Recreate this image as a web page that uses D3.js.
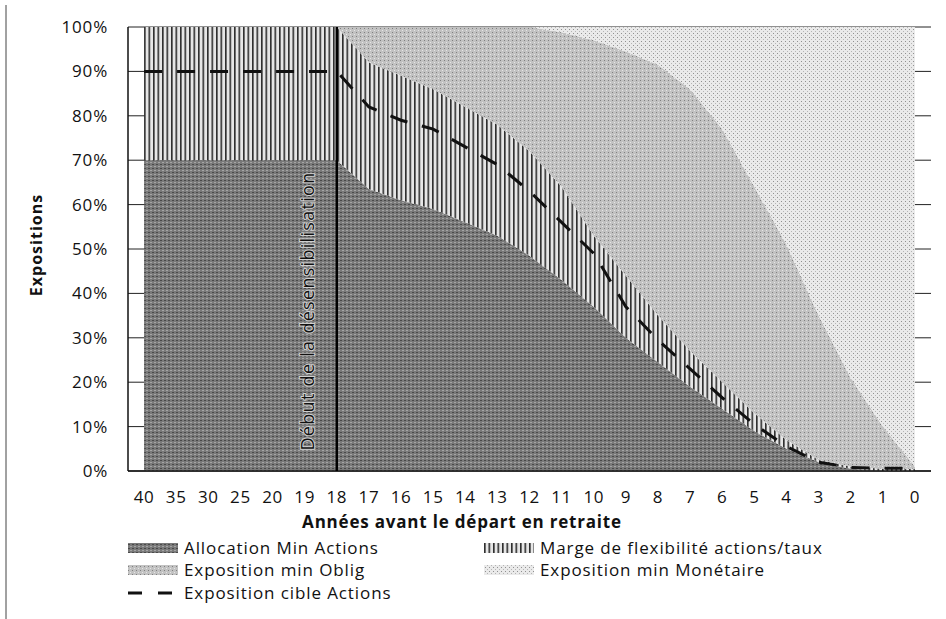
<!DOCTYPE html>
<html><head><meta charset="utf-8">
<script src="https://cdn.jsdelivr.net/npm/d3@7"></script>
<style>
body{margin:0;background:#fff;}
svg text{font-family:"Open Sans",sans-serif;fill:#111;}
</style></head>
<body><svg id="c" width="946" height="619"></svg>
<script>
// ---- data ----
const categories = ["40","35","30","25","20","19","18","17","16","15","14","13","12","11","10","9","8","7","6","5","4","3","2","1","0"];
const allocationMinActions = [70,70,70,70,70,70,70,63.5,61,59,56,53,48.5,43,37,30,24.5,19,14,9,5,2,0.5,0,0];
const margeFlexibilite =     [30,30,30,30,30,30,30,28.5,28,27,26,25,23.5,21,16,14,10.5,8,6,4,2,0.5,0.5,0.5,0.5];
const expositionMinOblig =   [0,0,0,0,0,0,0,8,11,14,18,22,28,34.8,44,50.5,56.5,59,57,51,44,32.5,20,9.5,0.5];
const expositionMinMonetaire=[0,0,0,0,0,0,0,0,0,0,0,0,0,1.2,3,5.5,8.5,14,23,36,49,65,79,90,99];
const expositionCibleActions=[90,90,90,90,90,90,90,82,79,77,73,69,63,56,49,37,29.5,23,16.5,10.5,5.5,2,0.8,0.6,0.6];
const yTicks = [0,10,20,30,40,50,60,70,80,90,100];
const seriesNames = ["Allocation Min Actions","Marge de flexibilité actions/taux","Exposition min Oblig","Exposition min Monétaire","Exposition cible Actions"];
const markerCategory = "18";
const markerLabel = "Début de la désensibilisation";

// ---- layout ----
const svg = d3.select("#c");
const L=128, R=931, T=27, B=471;
const x = d3.scalePoint().domain(categories).range([L,R]).padding(0.5);
const y = d3.scaleLinear().domain([0,100]).range([B,T]);

// patterns
const defs = svg.append("defs");
const pStripe = defs.append("pattern").attr("id","stripe").attr("patternUnits","userSpaceOnUse").attr("width",4.5).attr("height",10);
pStripe.append("rect").attr("width",4.5).attr("height",10).attr("fill","#e6e6e6");
pStripe.append("rect").attr("x",0).attr("width",1.6).attr("height",10).attr("fill","#2e2e2e");
const pDark = defs.append("pattern").attr("id","dark").attr("patternUnits","userSpaceOnUse").attr("width",4).attr("height",4);
pDark.append("rect").attr("width",4).attr("height",4).attr("fill","#7a7a7a");
pDark.append("rect").attr("x",0).attr("y",0).attr("width",2).attr("height",1).attr("fill","#4a4a4a");
pDark.append("rect").attr("x",2).attr("y",2).attr("width",2).attr("height",1).attr("fill","#a5a5a5");
const pMed = defs.append("pattern").attr("id","med").attr("patternUnits","userSpaceOnUse").attr("width",4).attr("height",4);
pMed.append("rect").attr("width",4).attr("height",4).attr("fill","#c2c2c2");
pMed.append("rect").attr("x",0).attr("y",0).attr("width",1).attr("height",1).attr("fill","#808080");
pMed.append("rect").attr("x",2).attr("y",2).attr("width",1).attr("height",1).attr("fill","#e6e6e6");
const pLight = defs.append("pattern").attr("id","light").attr("patternUnits","userSpaceOnUse").attr("width",4).attr("height",4);
pLight.append("rect").attr("width",4).attr("height",4).attr("fill","#eaeaea");
pLight.append("rect").attr("x",1).attr("y",1).attr("width",1).attr("height",1).attr("fill","#909090");
pLight.append("rect").attr("x",3).attr("y",3).attr("width",1).attr("height",1).attr("fill","#b5b5b5");
const fills = ["url(#dark)","url(#stripe)","url(#med)","url(#light)"];

// gridlines
svg.append("g").selectAll("line").data(yTicks).join("line")
  .attr("x1",L).attr("x2",R).attr("y1",d=>y(d)).attr("y2",d=>y(d))
  .attr("stroke","#222").attr("stroke-width",1);

// stacked areas
const rows = categories.map((c,i)=>({cat:c, a:allocationMinActions[i], m:margeFlexibilite[i], o:expositionMinOblig[i], n:expositionMinMonetaire[i]}));
const stack = d3.stack().keys(["a","m","o","n"])(rows);
const area = d3.area().x(d=>x(d.data.cat)).y0(d=>y(d[0])).y1(d=>y(d[1]));
svg.append("g").selectAll("path").data(stack).join("path")
  .attr("d",area).attr("fill",(d,i)=>fills[i]);

// dashed target line
const line = d3.line().x((d,i)=>x(categories[i])).y(d=>y(d));
svg.append("path").datum(expositionCibleActions).attr("d",line)
  .attr("fill","none").attr("stroke","#111").attr("stroke-width",3).attr("stroke-dasharray","18,15");

// axes lines
svg.append("line").attr("x1",L).attr("x2",L).attr("y1",T).attr("y2",B).attr("stroke","#111").attr("stroke-width",1.5);
svg.append("line").attr("x1",L).attr("x2",R).attr("y1",B).attr("y2",B).attr("stroke","#111").attr("stroke-width",1.5);

// marker line
svg.append("line").attr("x1",x(markerCategory)).attr("x2",x(markerCategory)).attr("y1",T).attr("y2",B)
  .attr("stroke","#000").attr("stroke-width",2.5);
svg.append("text").attr("transform",`translate(${x(markerCategory)-23},311) rotate(-90)`)
  .attr("text-anchor","middle").attr("font-size",18).attr("letter-spacing","1.3px").attr("fill","#111")
  .attr("stroke","#d0d0d0").attr("stroke-width",2).attr("paint-order","stroke")
  .text(markerLabel);

// y tick labels
svg.append("g").selectAll("text").data(yTicks).join("text")
  .attr("x",108).attr("y",d=>y(d)).attr("dy","0.35em").attr("text-anchor","end")
  .attr("font-size",17).attr("letter-spacing","0.8px").text(d=>d+"%");
// x tick labels
svg.append("g").selectAll("text").data(categories).join("text")
  .attr("x",d=>x(d)).attr("y",497).attr("dy","0.35em").attr("text-anchor","middle")
  .attr("font-size",17).attr("letter-spacing","0.6px").text(d=>d);
// axis titles
svg.append("text").attr("x",462).attr("y",522).attr("dy","0.35em").attr("text-anchor","middle")
  .attr("font-size",17).attr("letter-spacing","0.8px").attr("font-weight","bold").text("Années avant le départ en retraite");
svg.append("text").attr("transform","translate(36,245) rotate(-90)").attr("text-anchor","middle")
  .attr("dy","0.35em").attr("font-size",16).attr("letter-spacing","1px").attr("font-weight","bold").text("Expositions");

// left scan border
svg.append("line").attr("x1",6).attr("x2",6).attr("y1",5).attr("y2",619).attr("stroke","#444").attr("stroke-width",1);

// legend
const leg = [
  {name:seriesNames[0], fill:fills[0], x:128, y:548},
  {name:seriesNames[1], fill:fills[1], x:484, y:548},
  {name:seriesNames[2], fill:fills[2], x:128, y:570},
  {name:seriesNames[3], fill:fills[3], x:484, y:570},
  {name:seriesNames[4], dash:true, x:128, y:593}
];
const lg = svg.append("g").selectAll("g").data(leg).join("g").attr("transform",d=>`translate(${d.x},${d.y})`);
lg.filter(d=>!d.dash).append("rect").attr("x",0).attr("y",-5).attr("width",50).attr("height",10).attr("fill",d=>d.fill);
lg.filter(d=>d.dash).append("line").attr("x1",0).attr("x2",50).attr("y1",0).attr("y2",0)
  .attr("stroke","#111").attr("stroke-width",3).attr("stroke-dasharray","14,16");
lg.append("text").attr("x",56).attr("dy","0.35em").attr("font-size",17).attr("letter-spacing","0.9px").text(d=>d.name);
</script></body></html>
